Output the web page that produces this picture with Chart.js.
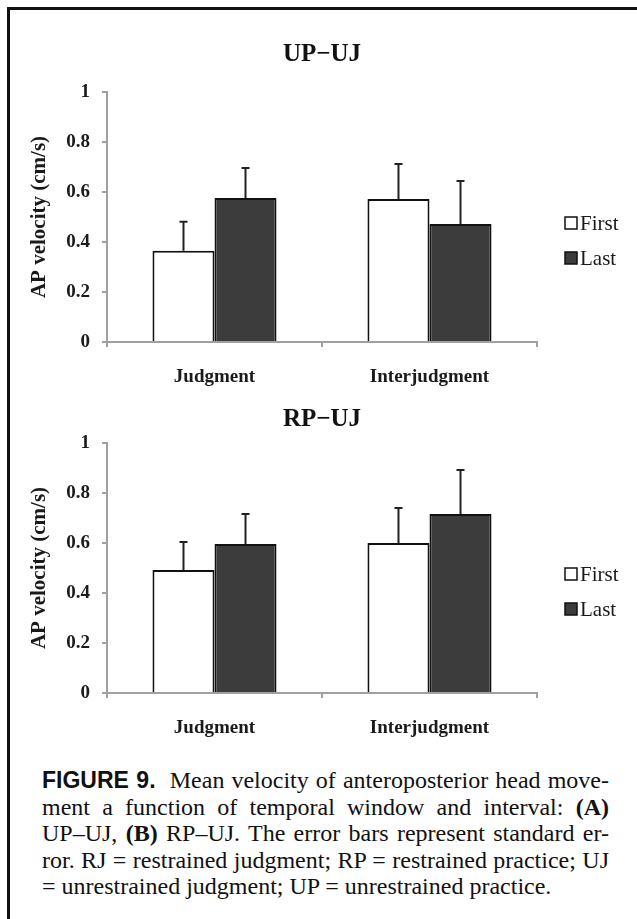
<!DOCTYPE html>
<html>
<head>
<meta charset="utf-8">
<script src="https://cdn.jsdelivr.net/npm/chart.js@4"></script>
<style>
  html, body { margin: 0; padding: 0; background: #fff; overflow: hidden; }
  body { width: 637px; height: 919px; position: relative; }
  .frame { position: absolute; left: 7px; top: 7px; width: 660px; height: 940px;
           border-top: 3px solid #111; border-left: 3px solid #111; }
  canvas { position: absolute; left: 0; }
  #chartA { top: 0; }
  #chartB { top: 395px; }
  .caption { position: absolute; left: 42px; top: 767px; width: 567px;
             font-family: 'Liberation Serif', 'Times New Roman', serif; font-size: 24px;
             line-height: 26.5px; color: #111; }
  .caption div { text-align: justify; text-align-last: justify; white-space: nowrap; }
  .caption div.last { text-align-last: left; }
  .fig { font-family: 'Liberation Sans', Arial, sans-serif; font-weight: bold; font-size: 23px; }
</style>
</head>
<body>
<div class="frame"></div>
<canvas id="chartA" width="637" height="395"></canvas>
<canvas id="chartB" width="637" height="355"></canvas>
<div class="caption">
  <div><span class="fig">FIGURE 9.</span>&nbsp; Mean velocity of anteroposterior head move-</div>
  <div>ment a function of temporal window and interval: <b>(A)</b></div>
  <div>UP–UJ, <b>(B)</b> RP–UJ. The error bars represent standard er-</div>
  <div>ror. RJ = restrained judgment; RP = restrained practice; UJ</div>
  <div class="last">= unrestrained judgment; UP = unrestrained practice.</div>
</div>
<script>
const categories = ['Judgment', 'Interjudgment'];
const seriesNames = ['First', 'Last'];
const yTickLabels = ['0', '0.2', '0.4', '0.6', '0.8', '1'];

// UP-UJ panel
const upujFirst = [0.365, 0.572];
const upujFirstErr = [0.116, 0.14];
const upujLast = [0.576, 0.472];
const upujLastErr = [0.12, 0.172];

// RP-UJ panel
const rpujFirst = [0.492, 0.6];
const rpujFirstErr = [0.112, 0.14];
const rpujLast = [0.596, 0.716];
const rpujLastErr = [0.12, 0.176];

const serif = "'Liberation Serif', 'Times New Roman', serif";
const fillColors = ['#ffffff', '#3c3c3c'];

// error bars, only the upper half
const errorBars = {
    id: 'errorBars',
    afterDatasetsDraw(chart) {
    const ctx = chart.ctx;
    const y = chart.scales.y;
    ctx.save();
    ctx.strokeStyle = '#222';
    ctx.lineWidth = 2;
    chart.data.datasets.forEach((ds, i) => {
        const meta = chart.getDatasetMeta(i);
        meta.data.forEach((bar, j) => {
        const top = y.getPixelForValue(ds.data[j] + ds.errors[j]);
        ctx.beginPath();
        ctx.moveTo(bar.x, bar.y);
        ctx.lineTo(bar.x, top);
        ctx.moveTo(bar.x - 4, top);
        ctx.lineTo(bar.x + 4, top);
        ctx.stroke();
        });
    });
    ctx.restore();
    }
};

// legend on the right, a bit below the middle of the plot
const sideLegend = {
    id: 'sideLegend',
    afterDraw(chart) {
    const ctx = chart.ctx;
    const area = chart.chartArea;
    const x = area.right + 28;
    const y0 = (area.top + area.bottom) / 2 + 6;
    ctx.save();
    ctx.font = '21px ' + serif;
    ctx.textBaseline = 'middle';
    chart.data.datasets.forEach((ds, i) => {
        const y = y0 + i * 35;
        ctx.fillStyle = ds.backgroundColor;
        ctx.fillRect(x, y - 6, 12, 12);
        ctx.strokeStyle = '#111';
        ctx.lineWidth = 1.5;
        ctx.strokeRect(x, y - 6, 12, 12);
        ctx.fillStyle = '#1a1a1a';
        ctx.fillText(ds.label, x + 15, y + 1);
    });
    ctx.restore();
    }
};

function makeChart(id, title, first, firstErr, last, lastErr, titlePad, axisHeight) {
    return new Chart(document.getElementById(id), {
    type: 'bar',
    data: {
        labels: categories,
        datasets: [
        { label: seriesNames[0], data: first, errors: firstErr, backgroundColor: fillColors[0] },
        { label: seriesNames[1], data: last, errors: lastErr, backgroundColor: fillColors[1] }
        ]
    },
    options: {
        responsive: false,
        animation: false,
        devicePixelRatio: 1,
        layout: { padding: { left: 20, right: 100, top: 0, bottom: 0 } },
        datasets: {
        bar: {
            borderColor: '#111',
            borderWidth: 2,
            categoryPercentage: 0.577,
            barPercentage: 1
        }
        },
        plugins: {
        legend: { display: false },
        tooltip: { enabled: false },
        title: {
            display: true,
            text: title,
            fullSize: false,
            color: '#111',
            font: { family: serif, size: 25, weight: 'bold' },
            padding: titlePad
        }
        },
        scales: {
        x: {
            grid: { drawOnChartArea: false, tickLength: 5, color: '#a0a0a0', lineWidth: 2 },
            border: { color: '#a0a0a0', width: 2 },
            ticks: { color: '#1a1a1a', padding: 19, font: { family: serif, size: 19, weight: 'bold' } },
            afterFit: scale => { scale.height = axisHeight; }
        },
        y: {
            min: 0,
            max: 1,
            ticks: {
            stepSize: 0.2,
            color: '#1a1a1a',
            padding: 12,
            font: { family: serif, size: 19, weight: 'bold' },
            callback: (v, i) => yTickLabels[i]
            },
            grid: { drawOnChartArea: false, tickLength: 5, color: '#a0a0a0', lineWidth: 2 },
            border: { color: '#a0a0a0', width: 2 },
            title: {
            display: true,
            text: 'AP velocity (cm/s)',
            color: '#1a1a1a',
            font: { family: serif, size: 21, weight: 'bold' },
            padding: { top: 7, bottom: 0 }
            },
            afterFit: scale => { scale.width = 87; }
        }
        }
    },
    plugins: [errorBars, sideLegend]
    });
}

makeChart('chartA', 'UP−UJ', upujFirst, upujFirstErr, upujLast, upujLastErr, { top: 40, bottom: 22 }, 53);
makeChart('chartB', 'RP−UJ', rpujFirst, rpujFirstErr, rpujLast, rpujLastErr, { top: 10, bottom: 8 }, 57);
</script>
</body>
</html>
